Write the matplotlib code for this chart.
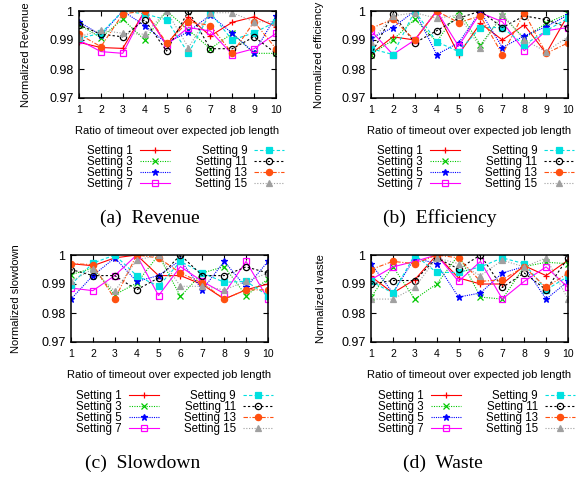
import matplotlib
matplotlib.use("Agg")
import matplotlib.pyplot as plt
from matplotlib.ticker import FuncFormatter

plt.rcParams["font.family"] = ["Liberation Sans", "DejaVu Sans"]

ratios = [1, 2, 3, 4, 5, 6, 7, 8, 9, 10]
settings = ["Setting 1", "Setting 3", "Setting 5", "Setting 7",
            "Setting 9", "Setting 11", "Setting 13", "Setting 15"]

# one row per setting, one value per timeout ratio
revenue = [
    [0.9892, 0.9874, 0.9871, 1.0, 0.9883, 0.998, 0.9914, 0.9961, 0.998, 0.9946],
    [0.9952, 0.9908, 0.9972, 0.990, 1.0, 0.9935, 0.987, 0.9923, 0.9854, 0.9854],
    [0.9963, 0.9917, 1.0, 0.995, 0.9889, 0.9929, 0.9986, 0.9923, 0.9856, 0.9983],
    [0.990, 0.986, 0.9854, 1.0, 0.9883, 0.9943, 0.9931, 0.985, 0.987, 0.9923],
    [0.9906, 0.9923, 1.0, 0.999, 0.997, 0.9854, 0.9994, 0.990, 0.9925, 0.9963],
    [0.9952, 0.992, 0.9911, 0.997, 0.9862, 1.0, 0.987, 0.987, 0.9911, 0.9854],
    [0.992, 0.9877, 0.999, 1.0, 0.989, 0.9963, 0.995, 0.9854, 0.9963, 0.987],
    [0.9911, 0.9934, 0.9923, 0.992, 1.0, 0.9874, 0.9994, 0.9994, 0.9963, 0.9963],
]
efficiency = [
    [0.9852, 0.9911, 0.990, 1.0, 0.985, 0.9958, 0.990, 0.9952, 0.9854, 0.9986],
    [0.985, 0.990, 0.9972, 0.9894, 1.0, 0.9883, 0.9983, 0.9906, 0.9958, 0.999],
    [0.9906, 0.9943, 1.0, 0.985, 0.989, 0.9998, 0.9874, 0.9914, 0.9946, 0.9986],
    [0.9932, 0.985, 0.990, 1.0, 0.9879, 0.9994, 0.9963, 0.9863, 0.9932, 0.9943],
    [0.987, 0.985, 1.0, 0.9894, 0.986, 0.9943, 0.9943, 0.9883, 0.9932, 0.9975],
    [0.985, 0.999, 0.989, 0.9932, 0.9975, 1.0, 0.9943, 0.9983, 0.997, 0.9943],
    [0.994, 0.9972, 0.990, 1.0, 0.996, 0.9983, 0.985, 0.9994, 0.9854, 0.989],
    [0.9894, 0.9983, 0.9994, 0.9975, 0.9986, 0.9874, 0.999, 0.990, 0.986, 0.9911],
]
slowdown = [
    [0.997, 0.9963, 0.999, 1.0, 0.9929, 0.9929, 0.9898, 0.9848, 0.988, 0.990],
    [0.9932, 0.9955, 0.9863, 0.9903, 1.0, 0.9857, 0.9938, 0.996, 0.986, 0.9917],
    [0.9848, 0.9929, 0.999, 0.9909, 0.9929, 0.9982, 0.988, 0.9978, 0.9888, 0.9978],
    [0.9886, 0.9877, 0.9929, 1.0, 0.986, 0.996, 0.9909, 0.9867, 0.9978, 0.9848],
    [0.9898, 0.9972, 1.0, 0.9929, 0.9892, 0.9978, 0.9938, 0.9906, 0.9909, 0.986],
    [0.995, 0.9929, 0.9929, 0.988, 0.9921, 1.0, 0.9929, 0.9929, 0.9959, 0.9938],
    [0.997, 0.9967, 0.9848, 1.0, 0.999, 0.9938, 0.9903, 0.9848, 0.988, 0.988],
    [0.9909, 0.9952, 0.9875, 0.9982, 1.0, 0.9892, 0.9892, 0.988, 0.9909, 0.9938],
]
waste = [
    [0.9926, 0.9869, 0.9915, 1.0, 0.9921, 0.990, 0.990, 0.9963, 0.9929, 0.9982],
    [0.9855, 0.996, 0.9848, 0.990, 1.0, 0.9855, 0.9848, 0.996, 0.9975, 0.997],
    [0.997, 0.9869, 0.999, 0.997, 0.9855, 0.9869, 0.9938, 0.996, 0.9848, 0.9909],
    [0.9915, 0.9959, 0.9978, 1.0, 0.9909, 0.9978, 0.9848, 0.9909, 0.9959, 0.9888],
    [0.9909, 0.9869, 1.0, 0.994, 0.994, 0.9959, 0.999, 0.997, 0.988, 0.9926],
    [0.990, 0.9912, 0.9912, 0.999, 0.9952, 1.0, 0.9888, 0.9938, 0.988, 0.999],
    [0.995, 0.9978, 0.997, 1.0, 0.999, 0.9909, 0.9915, 0.9959, 0.9888, 0.9938],
    [0.9848, 0.9848, 0.9888, 0.999, 0.997, 0.9929, 0.9982, 0.9959, 0.999, 0.9848],
]

ylabels = ["Normalized Revenue", "Normalized efficiency",
           "Normalized slowdown", "Normalized waste"]
captions = ["(a)  Revenue", "(b)  Efficiency", "(c)  Slowdown", "(d)  Waste"]
yticks = [0.97, 0.98, 0.99, 1.0]

# gnuplot-ish line types
colors = ["#ff0000", "#00c800", "#0000ff", "#ff00ff",
          "#00e0e0", "#000000", "#ff5010", "#a0a0a0"]
styles = ["-", (0, (1, 1.2)), (0, (1, 1)), "-",
          (0, (3, 2)), (0, (2, 2)), (0, (4, 1.5, 1, 1.5)), (0, (1, 1.5))]
markers = ["+", "x", "*", "s", "s", "o", "o", "^"]
filled = [True, True, True, False, True, False, True, True]

W, H = 587, 480
fig = plt.figure(figsize=(W / 100, H / 100), dpi=100)

# axes boxes in pixels: left, right, top, bottom
boxes = [(79, 276, 11, 98), (371, 568, 11, 98),
         (71, 268, 255, 342), (371, 568, 255, 342)]
ylabel_x = [31, 324, 21, 326]
legend_pos = [(87, 145), (377, 145), (76, 390), (378, 390)]
caption_pos = [(150, 218), (440, 218), (143, 463), (443, 463)]

for i, data in enumerate([revenue, efficiency, slowdown, waste]):
    l, r, t, b = boxes[i]
    ax = fig.add_axes([l / W, 1 - b / H, (r - l) / W, (b - t) / H])
    for j, vals in enumerate(data):
        ax.plot(ratios, vals, color=colors[j], linestyle=styles[j],
                linewidth=0.8, marker=markers[j], markersize=4.5,
                markeredgewidth=0.9,
                markerfacecolor=colors[j] if filled[j] else "none",
                label=settings[j])
    ax.set_xlim(1, 10)
    ax.set_ylim(0.97, 1.0)
    ax.set_xticks(ratios)
    ax.set_yticks(yticks)
    ax.yaxis.set_major_formatter(FuncFormatter(lambda v, p: "%g" % v))
    ax.tick_params(direction="in", top=True, right=True, length=3.5, width=0.8)
    ax.tick_params(axis="x", labelsize=7.5, pad=5)
    ax.tick_params(axis="y", labelsize=9, pad=4)
    for s in ax.spines.values():
        s.set_linewidth(1.1)
    ax.set_xlabel("Ratio of timeout over expected job length", fontsize=8, labelpad=8)
    ax.set_ylabel(ylabels[i], fontsize=8)
    ax.yaxis.set_label_coords((ylabel_x[i] - l) / (r - l), 0.5)

    lx, ly = legend_pos[i]
    ax.legend(loc="upper left", bbox_to_anchor=(lx / W, 1 - ly / H),
              bbox_transform=fig.transFigure, ncol=2, markerfirst=False,
              frameon=False, fontsize=8.3, handlelength=2.6, handletextpad=0.6,
              columnspacing=2.2, labelspacing=-0.1, borderpad=0, borderaxespad=0)

    cx, cy = caption_pos[i]
    fig.text(cx / W, 1 - cy / H, captions[i], ha="center", va="center",
             family="Liberation Serif", fontsize=14)

fig.savefig("out.png", dpi=100)
print("wrote out.png")
